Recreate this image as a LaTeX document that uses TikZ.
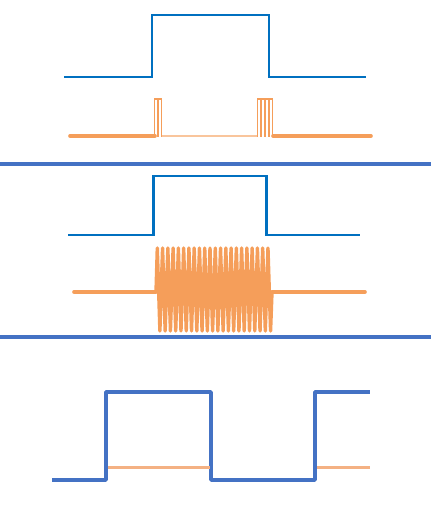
\documentclass[tikz,border=0pt]{standalone}
\definecolor{sigblue}{HTML}{0070C0}
\definecolor{barblue}{HTML}{4472C4}
\definecolor{sigorange}{HTML}{F59E5A}
\definecolor{lightorange}{HTML}{F4B183}
\tikzset{
  ctrl/.style={sigblue, line width=2.8pt},
  divider/.style={barblue, line width=4pt},
  rfbase/.style={sigorange, line width=3.6pt, line cap=round},
  rfspike/.style={sigorange, line width=1.7pt},
  rfthin/.style={sigorange!60, line width=1.4pt},
  burst/.style={sigorange, line width=3.4pt, line join=round},
  gate/.style={barblue, line width=3.4pt, line join=round},
  level/.style={lightorange, line width=3pt}
}
\begin{document}
\begin{tikzpicture}[x=1pt, y=-1pt]
\useasboundingbox (0,0) rectangle (431,524);
% top panel
\draw [ctrl] (64,77) -- (152,77) -- (152,15) -- (269,15) -- (269,77) -- (366,77);
\draw [rfbase] (70,136) -- (155,136);
\draw [rfbase] (273,136) -- (371,136);
\draw [rfthin] (161,136) -- (258,136);
\foreach \x in {154.5,158.5,257.5,261.5,265.5,269.5} {\draw [rfspike] (\x,137) -- (\x,99) -- (\x+3,99) -- (\x+3,137);}
\draw [divider] (0,164) -- (431,164);
% middle panel
\draw [ctrl] (68,235) -- (153.5,235) -- (153.5,176) -- (266.5,176) -- (266.5,235) -- (360,235);
\draw [rfbase] (74,292) -- (156,292);
\draw [rfbase] (272,292) -- (365,292);
\draw [burst] (156,292) \foreach \i in {0,...,21} { -- ({157.3+\i*5.27},248) -- ({159.9+\i*5.27},331) } -- (272,292);
\draw [divider] (0,337) -- (431,337);
% bottom panel
\draw [gate] (52,480) -- (106,480) -- (106,392) -- (211,392) -- (211,480) -- (315,480) -- (315,392) -- (370,392);
\draw [level] (108,467.5) -- (210,467.5);
\draw [level] (317,467.5) -- (370,467.5);
\end{tikzpicture}
\end{document}
